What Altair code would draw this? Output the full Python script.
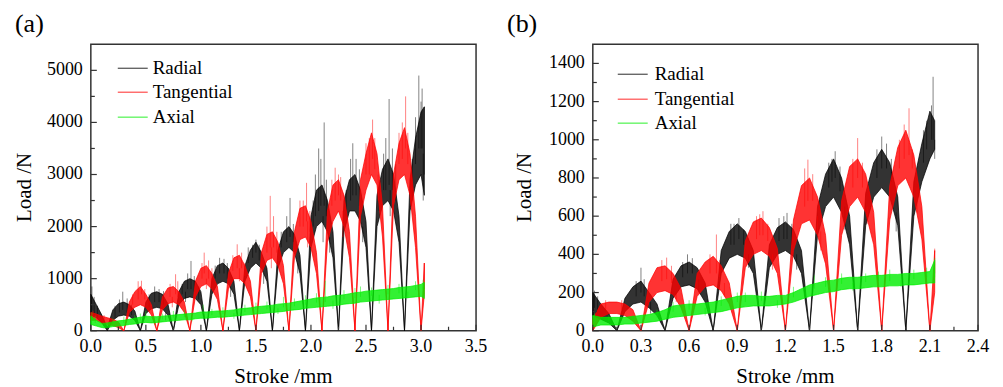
import altair as alt
import pandas as pd

# ---------------- Panel (a) data ----------------
xa = [0.00, 0.05, 0.10, 0.15, 0.20, 0.25, 0.30, 0.35, 0.40, 0.45,
      0.50, 0.55, 0.60, 0.65, 0.70, 0.75, 0.80, 0.85, 0.90, 0.95,
      1.00, 1.05, 1.10, 1.15, 1.20, 1.25, 1.30, 1.35, 1.40, 1.45,
      1.50, 1.55, 1.60, 1.65, 1.70, 1.75, 1.80, 1.85, 1.90, 1.95,
      2.00, 2.05, 2.10, 2.15, 2.20, 2.25, 2.30, 2.35, 2.40, 2.45,
      2.50, 2.55, 2.60, 2.65, 2.70, 2.75, 2.80, 2.85, 2.90, 2.95,
      3.00, 3.03]
a_radial_lo = [300, 250, 150, 0, 200, 280, 300, 280, 200, 0,
               330, 420, 450, 420, 300, 0, 500, 620, 650, 620,
               500, 0, 700, 900, 950, 900, 700, 0, 950, 1200,
               1300, 1200, 950, 0, 1200, 1500, 1600, 1500, 1100, 0,
               1600, 2000, 2100, 1900, 1400, 0, 1900, 2300, 2300, 2100,
               1600, 0, 2000, 2400, 2500, 2300, 1700, 0, 2300, 2800,
               3000, 2600]
a_radial_hi = [700, 500, 300, 60, 400, 520, 550, 500, 380, 0,
               550, 720, 750, 700, 520, 0, 750, 950, 1000, 950,
               750, 0, 1000, 1250, 1300, 1200, 950, 0, 1250, 1550,
               1700, 1500, 1200, 0, 1550, 1900, 2000, 1850, 1450, 0,
               2200, 2700, 2800, 2500, 1900, 0, 2500, 2900, 3000, 2700,
               2100, 0, 2600, 3100, 3300, 3000, 2200, 0, 2900, 3700,
               4200, 4300]
a_tang_lo = [200, 200, 150, 120, 100, 60, 0, 350, 450, 500,
             450, 300, 0, 400, 520, 550, 500, 350, 0, 650,
             850, 900, 800, 600, 0, 800, 1000, 1000, 900, 650,
             0, 1100, 1350, 1400, 1250, 900, 0, 1400, 1750, 1800,
             1600, 1100, 0, 1700, 2100, 2300, 2000, 1400, 0, 2200,
             2700, 3000, 2800, 1800, 0, 2400, 2900, 3000, 2600, 1600,
             0, 700]
a_tang_hi = [350, 320, 280, 250, 220, 170, 0, 550, 750, 850,
             700, 500, 0, 650, 820, 850, 750, 550, 0, 950,
             1200, 1250, 1100, 850, 0, 1100, 1400, 1450, 1250, 950,
             0, 1500, 1850, 1900, 1700, 1250, 0, 1900, 2350, 2400,
             2100, 1500, 0, 2300, 2800, 2900, 2600, 1900, 0, 2900,
             3400, 3800, 3400, 2400, 0, 3000, 3600, 3900, 3400, 2200,
             0, 1300]
a_axial_lo = [120, 90, 60, 60, 80, 90, 100, 120, 130, 150,
              160, 150, 160, 170, 180, 190, 200, 210, 210, 230,
              240, 240, 250, 260, 260, 270, 280, 290, 300, 310,
              320, 330, 340, 350, 360, 370, 390, 400, 410, 430,
              440, 450, 460, 470, 480, 490, 510, 520, 530, 550,
              560, 570, 580, 590, 600, 610, 620, 630, 640, 650,
              660, 620]
a_axial_hi = [280, 200, 140, 150, 170, 190, 200, 220, 240, 260,
              280, 270, 270, 280, 290, 300, 310, 320, 330, 340,
              360, 360, 370, 380, 380, 390, 400, 420, 430, 440,
              460, 470, 480, 490, 510, 520, 530, 550, 570, 590,
              610, 630, 640, 650, 670, 680, 690, 710, 730, 740,
              760, 770, 780, 790, 800, 810, 830, 840, 850, 870,
              890, 930]
# spikes: x, base, top
a_radial_sx = [0.01, 0.03, 0.06, 0.22, 0.26, 0.29, 0.33, 0.37,
               0.53, 0.58, 0.62, 0.66, 0.68,
               0.83, 0.86, 0.88, 0.91, 0.94, 0.98,
               1.13, 1.17, 1.21, 1.24, 1.27,
               1.43, 1.47, 1.50, 1.53, 1.57,
               1.73, 1.78, 1.81, 1.84, 1.88,
               2.02, 2.04, 2.07, 2.09, 2.11, 2.12, 2.14, 2.17,
               2.32, 2.36, 2.38, 2.41, 2.44, 2.47,
               2.62, 2.66, 2.68, 2.71, 2.72, 2.74, 2.77,
               2.92, 2.95, 2.98, 3.00, 3.01, 3.02, 3.03]
a_radial_sb = [400, 300, 250, 250, 350, 400, 350, 300,
               450, 550, 550, 500, 350,
               700, 750, 800, 800, 750, 600,
               1000, 1100, 1100, 1000, 850,
               1300, 1400, 1500, 1350, 1100,
               1600, 1700, 1800, 1700, 1300,
               2000, 2200, 2300, 2400, 2200, 2400, 2200, 1800,
               2200, 2500, 2600, 2600, 2400, 2000,
               2300, 2700, 2700, 2800, 2700, 2700, 2500,
               2600, 3200, 3500, 3500, 3500, 3400, 3000]
a_radial_st = [850, 650, 480, 480, 600, 750, 620, 500,
               700, 850, 800, 760, 200,
               900, 550, 1100, 1340, 1050, 850,
               1250, 1400, 1380, 1300, 650,
               1600, 1650, 1750, 1650, 900,
               1900, 2200, 2550, 2050, 1100,
               2500, 3000, 3500, 3300, 1700, 4000, 2900, 1500,
               2700, 3300, 3600, 3300, 3100, 1700,
               2900, 3400, 3700, 4450, 2200, 3500, 3200,
               3300, 4100, 4900, 4400, 4650, 2500, 4300]
a_tang_sx = [0.02, 0.12, 0.38, 0.43, 0.46, 0.49,
             0.72, 0.74, 0.77, 0.79,
             1.01, 1.03, 1.05, 1.07, 1.10,
             1.29, 1.33, 1.35, 1.37, 1.40,
             1.60, 1.63, 1.64, 1.66, 1.69,
             1.90, 1.93, 1.96, 1.97, 1.99,
             2.19, 2.22, 2.25, 2.27, 2.29,
             2.50, 2.53, 2.56, 2.58, 2.61,
             2.80, 2.83, 2.86, 2.88, 2.91, 3.03]
a_tang_sb = [250, 200, 500, 600, 700, 600,
             650, 650, 700, 650,
             1000, 1100, 1000, 1000, 950,
             1150, 1200, 1200, 1200, 1050,
             1500, 1600, 1600, 1600, 1500,
             2000, 2000, 2100, 2100, 1900,
             2400, 2500, 2600, 2500, 2300,
             3000, 3000, 3300, 3100, 3000,
             3200, 3300, 3500, 3200, 3000, 800]
a_tang_st = [380, 300, 700, 950, 960, 800,
             900, 450, 1085, 950,
             1300, 1500, 800, 1350, 1200,
             1450, 1660, 950, 1500, 1300,
             2000, 2590, 1200, 2200, 1900,
             2500, 2500, 2840, 1600, 2300,
             2900, 3130, 3000, 2950, 1800,
             3600, 3700, 4055, 3700, 2500,
             3800, 4000, 4500, 3800, 2400, 1300]
a_axial_sx = [0.01, 0.04, 0.12, 0.20, 0.30, 0.40, 0.45, 0.50, 0.58, 0.65, 0.75, 0.85, 0.92,
              1.02, 1.10, 1.20, 1.30, 1.40, 1.50, 1.60, 1.70, 1.75, 1.85, 1.95,
              2.05, 2.13, 2.20, 2.30, 2.40, 2.45, 2.55, 2.62, 2.70, 2.80, 2.88, 2.95, 3.02]
a_axial_sb = [200, 150, 100, 120, 150, 180, 200, 250, 200, 220, 250, 260, 270,
              330, 300, 320, 340, 360, 400, 410, 430, 450, 470, 500,
              540, 550, 580, 600, 630, 650, 670, 690, 700, 720, 750, 780, 800]
a_axial_st = [350, 280, 40, 230, 270, 300, 330, 380, 120, 330, 380, 400, 180,
              500, 420, 450, 230, 500, 540, 560, 320, 650, 620, 680,
              720, 960, 420, 780, 820, 850, 830, 520, 880, 900, 620, 950, 980]

# ---------------- Panel (b) data ----------------
xb = [0.00, 0.05, 0.10, 0.15, 0.20, 0.25, 0.30, 0.35, 0.40, 0.45,
      0.50, 0.55, 0.60, 0.65, 0.70, 0.75, 0.80, 0.85, 0.90, 0.95,
      1.00, 1.05, 1.10, 1.15, 1.20, 1.25, 1.30, 1.35, 1.40, 1.45,
      1.50, 1.55, 1.60, 1.65, 1.70, 1.75, 1.80, 1.85, 1.90, 1.95,
      2.00, 2.05, 2.10, 2.13]
b_radial_lo = [80, 60, 40, 0, 100, 140, 150, 120, 80, 0,
               170, 230, 240, 220, 150, 0, 300, 380, 400, 380,
               300, 0, 330, 400, 420, 390, 300, 0, 500, 650,
               700, 620, 450, 0, 550, 700, 750, 700, 550, 0,
               600, 780, 900, 950]
b_radial_hi = [200, 140, 90, 0, 170, 230, 260, 200, 140, 0,
               270, 340, 360, 330, 250, 0, 420, 520, 560, 520,
               420, 0, 450, 540, 570, 530, 420, 0, 650, 820,
               900, 800, 600, 0, 720, 880, 950, 880, 700, 0,
               780, 980, 1150, 1100]
b_tang_lo = [0, 70, 90, 90, 80, 50, 0, 150, 200, 210,
             190, 120, 0, 180, 230, 240, 210, 140, 0, 330,
             400, 420, 390, 300, 0, 420, 560, 580, 500, 350,
             0, 500, 650, 700, 620, 450, 0, 580, 760, 800,
             700, 480, 0, 200]
b_tang_hi = [60, 140, 150, 150, 140, 110, 0, 250, 330, 340,
             300, 220, 0, 300, 360, 390, 340, 250, 0, 470,
             570, 590, 540, 430, 0, 580, 760, 800, 700, 500,
             0, 680, 860, 900, 820, 620, 0, 760, 960, 1050,
             920, 650, 0, 420]
b_axial_lo = [20, 30, 30, 30, 35, 35, 40, 45, 50, 60,
              70, 75, 80, 85, 90, 95, 100, 110, 120, 125,
              130, 130, 130, 135, 140, 150, 165, 180, 190, 200,
              205, 215, 220, 220, 225, 230, 230, 235, 235, 240,
              240, 245, 250, 250]
b_axial_hi = [80, 70, 70, 70, 70, 75, 80, 85, 95, 110,
              130, 135, 140, 140, 145, 150, 160, 170, 180, 185,
              185, 180, 180, 185, 185, 200, 220, 240, 250, 260,
              265, 275, 280, 280, 285, 290, 290, 295, 295, 300,
              300, 305, 310, 370]
b_radial_sx = [0.01, 0.03, 0.27, 0.30, 0.32, 0.36,
               0.56, 0.59, 0.62, 0.66,
               0.86, 0.88, 0.91, 0.94, 0.97,
               1.16, 1.19, 1.21, 1.24, 1.27,
               1.47, 1.49, 1.51, 1.54, 1.57,
               1.77, 1.80, 1.83, 1.86, 1.89,
               2.06, 2.08, 2.11, 2.12, 2.13]
b_radial_sb = [120, 100, 180, 200, 180, 150,
               280, 300, 300, 270,
               450, 450, 480, 450, 400,
               470, 480, 480, 450, 400,
               750, 780, 800, 730, 650,
               800, 850, 850, 780, 620,
               880, 950, 1000, 1000, 1000]
b_radial_st = [210, 180, 260, 330, 270, 90,
               360, 400, 380, 200,
               560, 560, 590, 530, 330,
               590, 600, 617, 560, 320,
               880, 900, 940, 860, 530,
               950, 1017, 980, 900, 520,
               1050, 1100, 1180, 1330, 900]
b_tang_sx = [0.08, 0.18, 0.43, 0.46, 0.49, 0.52,
             0.73, 0.77, 0.79, 0.82,
             1.02, 1.04, 1.06, 1.09, 1.12,
             1.32, 1.34, 1.37, 1.40, 1.42,
             1.62, 1.65, 1.68, 1.71,
             1.91, 1.94, 1.97, 1.99, 2.02, 2.13]
b_tang_sb = [110, 110, 260, 270, 250, 200,
             300, 300, 280, 250,
             480, 500, 500, 470, 400,
             650, 680, 680, 600, 520,
             750, 800, 750, 650,
             850, 900, 920, 850, 750, 300]
b_tang_st = [160, 160, 370, 383, 340, 150,
             400, 504, 370, 180,
             600, 610, 626, 560, 320,
             850, 896, 820, 520, 420,
             900, 1009, 880, 560,
             1000, 1080, 1165, 950, 620, 430]
b_axial_sx = [0.01, 0.10, 0.25, 0.40, 0.50, 0.60, 0.70, 0.80, 0.90, 0.95,
              1.05, 1.15, 1.25, 1.38, 1.45, 1.55, 1.62, 1.70, 1.78, 1.85,
              1.92, 2.00, 2.08, 2.13]
b_axial_sb = [50, 50, 55, 70, 100, 110, 120, 130, 150, 150,
              155, 160, 175, 220, 230, 245, 250, 255, 260, 260,
              265, 270, 280, 280]
b_axial_st = [90, 80, 80, 110, 150, 160, 80, 180, 200, 200,
              205, 120, 230, 290, 280, 300, 210, 300, 310, 320,
              230, 320, 330, 380]

series_names = ["Radial", "Tangential", "Axial"]
series_colors = ["#000000", "#ff0000", "#00ee00"]

a_xticks = [0.0, 0.5, 1.0, 1.5, 2.0, 2.5, 3.0, 3.5]
a_xlabels = ["0.0", "0.5", "1.0", "1.5", "2.0", "2.5", "3.0", "3.5"]
a_xminor = [0.25, 0.75, 1.25, 1.75, 2.25, 2.75, 3.25]
a_yticks = [0, 1000, 2000, 3000, 4000, 5000]
a_ylabels = ["0", "1000", "2000", "3000", "4000", "5000"]
a_yminor = [500, 1500, 2500, 3500, 4500]
b_xticks = [0.0, 0.3, 0.6, 0.9, 1.2, 1.5, 1.8, 2.1, 2.4]
b_xlabels = ["0.0", "0.3", "0.6", "0.9", "1.2", "1.5", "1.8", "2.1", "2.4"]
b_xminor = [0.15, 0.45, 0.75, 1.05, 1.35, 1.65, 1.95, 2.25]
b_yticks = [0, 200, 400, 600, 800, 1000, 1200, 1400]
b_ylabels = ["0", "200", "400", "600", "800", "1000", "1200", "1400"]
b_yminor = [100, 300, 500, 700, 900, 1100, 1300]
x_title = "Stroke /mm"
y_title = "Load /N"

W, H = 386, 287
FONT = "Liberation Serif"


def panel(tag, xs, bands, spikes, xdom, ydom, xt, xl, xm, yt, yl, ym, leg_rows, tag_x, ytitle_x, anchor):
    xs_ = alt.Scale(domain=xdom, nice=False, zero=False)
    ys_ = alt.Scale(domain=ydom, nice=False)

    def X(f):
        return alt.X(f, type="quantitative", scale=xs_, axis=None)

    def Y(f):
        return alt.Y(f, type="quantitative", scale=ys_, axis=None)

    layers = []
    for (lo, hi), (sx, sb, st), col in zip(bands, spikes, series_colors):
        df = pd.DataFrame({"x": xs, "lo": lo, "hi": hi})
        layers.append(alt.Chart(df).mark_area(color=col, fillOpacity=0.8, stroke=col,
                                               strokeWidth=0.8, strokeOpacity=0.9)
                      .encode(x=X("x"), y=Y("lo"), y2="hi"))
        sdf = pd.DataFrame({"x": sx, "b": sb, "t": st})
        layers.append(alt.Chart(sdf).mark_rule(color=col, strokeWidth=0.9, opacity=0.55)
                      .encode(x=X("x"), y=Y("b"), y2="t"))
    # inward ticks
    for vals, ln in [(xt, 6), (xm, 4)]:
        layers.append(alt.Chart(pd.DataFrame({"x": vals})).mark_rule(color="#333", strokeWidth=1.2)
                      .encode(x=X("x"), y=alt.value(H), y2=alt.value(H - ln)))
    for vals, ln in [(yt, 6), (ym, 4)]:
        layers.append(alt.Chart(pd.DataFrame({"y": vals})).mark_rule(color="#333", strokeWidth=1.2)
                      .encode(y=Y("y"), x=alt.value(0), x2=alt.value(ln)))
    # tick labels
    layers.append(alt.Chart(pd.DataFrame({"x": xt, "lab": xl})).mark_text(
        font=FONT, fontSize=18, align="center", baseline="top", color="black")
        .encode(x=X("x"), y=alt.value(H + 7), text="lab:N"))
    layers.append(alt.Chart(pd.DataFrame({"y": yt, "lab": yl})).mark_text(
        font=FONT, fontSize=18, align="right", baseline="middle", color="black")
        .encode(y=Y("y"), x=alt.value(-8), text="lab:N"))
    # axis titles
    layers.append(alt.Chart(pd.DataFrame({"t": [x_title]})).mark_text(
        font=FONT, fontSize=21, align="center", baseline="middle", color="black")
        .encode(text="t:N", x=alt.value(W / 2), y=alt.value(H + 46)))
    layers.append(alt.Chart(pd.DataFrame({"t": [y_title]})).mark_text(
        font=FONT, fontSize=21, align="center", baseline="middle", color="black", angle=270)
        .encode(text="t:N", x=alt.value(ytitle_x), y=alt.value(H / 2)))
    # legend
    for name, col, (x0, yy, tx) in zip(series_names, series_colors, leg_rows):
        ldf = pd.DataFrame({"name": [name]})
        layers.append(alt.Chart(ldf).mark_rule(color=col, strokeWidth=1.2, opacity=0.7)
                      .encode(x=alt.value(x0), x2=alt.value(x0 + 30), y=alt.value(yy)))
        layers.append(alt.Chart(ldf).mark_text(font=FONT, fontSize=19, align="left",
                                               baseline="middle", color="black")
                      .encode(text="name:N", x=alt.value(tx), y=alt.value(yy)))
    # panel tag
    layers.append(alt.Chart(pd.DataFrame({"t": [tag]})).mark_text(
        font=FONT, fontSize=26, align="left", baseline="middle", color="black")
        .encode(text="t:N", x=alt.value(tag_x), y=alt.value(-20)))
    if anchor:
        layers.append(alt.Chart(pd.DataFrame({"t": [0]})).mark_rule(strokeOpacity=0, strokeWidth=0)
                      .encode(x=alt.value(-82), x2=alt.value(-82), y=alt.value(-35), y2=alt.value(-35)))
    return alt.layer(*layers).properties(width=W, height=H)


pa = panel("(a)", xa,
           [(a_radial_lo, a_radial_hi), (a_tang_lo, a_tang_hi), (a_axial_lo, a_axial_hi)],
           [(a_radial_sx, a_radial_sb, a_radial_st), (a_tang_sx, a_tang_sb, a_tang_st),
            (a_axial_sx, a_axial_sb, a_axial_st)],
           [0, 3.5], [0, 5500], a_xticks, a_xlabels, a_xminor, a_yticks, a_ylabels, a_yminor,
           [(27, 24, 62), (27, 48, 62), (27, 73, 62)], -76, -66, True)
pb = panel("(b)", xb,
           [(b_radial_lo, b_radial_hi), (b_tang_lo, b_tang_hi), (b_axial_lo, b_axial_hi)],
           [(b_radial_sx, b_radial_sb, b_radial_st), (b_tang_sx, b_tang_sb, b_tang_st),
            (b_axial_sx, b_axial_sb, b_axial_st)],
           [0, 2.4], [0, 1500], b_xticks, b_xlabels, b_xminor, b_yticks, b_ylabels, b_yminor,
           [(25, 30, 62), (25, 55, 62), (25, 79, 62)], -86, -68, False)

chart = alt.hconcat(pa, pb, spacing=117, bounds="flush").properties(
    padding={"left": 0, "top": 0, "right": 5, "bottom": 0}
).configure_view(stroke="#333333", strokeWidth=1.5)

chart.save("out.html", embed_options={"renderer": "svg", "actions": False})
